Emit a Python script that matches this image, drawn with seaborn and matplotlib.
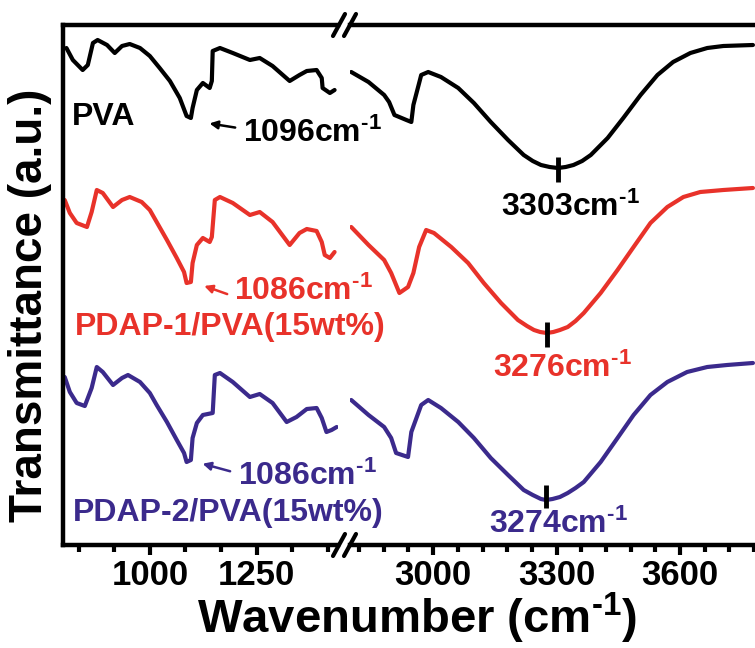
import pandas as pd
import matplotlib
matplotlib.use("Agg")
import matplotlib.pyplot as plt
from matplotlib.lines import Line2D
import seaborn as sns

# FTIR spectra (transmittance in a.u., curves already offset)
pva_lo_wn = [805, 820, 843, 855, 867, 878, 900, 918, 935, 953, 977, 1000, 1023, 1047, 1070, 1086,
             1096, 1100, 1110, 1124, 1140, 1145, 1147, 1164, 1194, 1234, 1257, 1287, 1327, 1350,
             1367, 1390, 1402, 1404, 1421, 1432]
pva_lo_t = [497, 485, 475, 480, 502, 505, 500, 492, 499, 501, 497, 489, 477, 464, 447, 429,
            427, 437, 455, 462, 457, 464, 494, 497, 492, 485, 487, 479, 464, 470,
            474, 475, 467, 457, 452, 455]

pva_hi_wn = [2801, 2843, 2881, 2893, 2906, 2935, 2947, 2952, 2966, 2971, 2988, 3019, 3061, 3099,
             3140, 3182, 3220, 3242, 3262, 3283, 3303, 3322, 3341, 3362, 3383, 3424, 3462, 3504,
             3545, 3583, 3625, 3666, 3705, 3777]
pva_hi_t = [473, 463, 450, 443, 430, 425, 423, 440, 462, 470, 473, 468, 457, 442,
            423, 405, 390, 384, 380, 378, 377, 378, 380, 384, 390, 407, 427, 450,
            470, 483, 492, 497, 499, 500]

p1_lo_wn = [801, 813, 829, 853, 864, 876, 890, 914, 935, 953, 981, 1000, 1016, 1040, 1063, 1080,
            1086, 1096, 1100, 1110, 1124, 1140, 1145, 1152, 1164, 1194, 1234, 1257, 1287, 1327,
            1350, 1367, 1390, 1402, 1409, 1421, 1432]
p1_lo_t = [345, 332, 322, 318, 333, 355, 352, 338, 345, 348, 343, 335, 323, 305, 287, 273,
           262, 263, 282, 300, 307, 303, 308, 345, 348, 342, 330, 333, 323, 300,
           312, 316, 314, 303, 290, 287, 293]

p1_hi_wn = [2801, 2843, 2881, 2898, 2918, 2939, 2952, 2966, 2983, 3002, 3044, 3085, 3123, 3165,
            3206, 3228, 3245, 3260, 3276, 3292, 3308, 3327, 3346, 3366, 3407, 3448, 3487, 3528,
            3569, 3608, 3649, 3705, 3777]
p1_hi_t = [318, 300, 285, 272, 252, 258, 272, 298, 315, 312, 298, 282, 262, 242,
           225, 219, 215, 213, 212, 213, 215, 218, 224, 232, 252, 275, 298, 322,
           338, 348, 353, 355, 357]

p2_lo_wn = [801, 813, 829, 848, 864, 876, 890, 914, 935, 949, 977, 1000, 1016, 1040, 1063, 1080,
            1086, 1096, 1100, 1110, 1124, 1147, 1152, 1164, 1194, 1234, 1257, 1287, 1320, 1343,
            1367, 1390, 1402, 1413, 1425, 1437]
p2_lo_t = [168, 153, 142, 139, 157, 178, 173, 160, 167, 170, 163, 152, 140, 123, 105, 92,
           83, 85, 107, 122, 130, 132, 170, 172, 163, 148, 151, 142, 123, 128,
           136, 137, 127, 113, 115, 118]

p2_hi_wn = [2801, 2843, 2881, 2898, 2910, 2939, 2947, 2971, 2988, 3019, 3061, 3099, 3140, 3182,
            3220, 3242, 3262, 3274, 3290, 3308, 3327, 3346, 3366, 3407, 3448, 3487, 3528, 3569,
            3617, 3666, 3714, 3777]
p2_hi_t = [145, 130, 118, 107, 92, 88, 113, 140, 145, 137, 123, 107, 87, 70,
           55, 50, 46, 45, 46, 48, 52, 57, 63, 83, 107, 130, 150, 163,
           173, 178, 180, 182]

samples = ["PVA", "PDAP-1/PVA(15wt%)", "PDAP-2/PVA(15wt%)"]
colors = {"PVA": "#000000", "PDAP-1/PVA(15wt%)": "#E8322A", "PDAP-2/PVA(15wt%)": "#3B2A8C"}

rows = []
for name, seg, wn, t in [
    ("PVA", "low", pva_lo_wn, pva_lo_t), ("PVA", "high", pva_hi_wn, pva_hi_t),
    ("PDAP-1/PVA(15wt%)", "low", p1_lo_wn, p1_lo_t), ("PDAP-1/PVA(15wt%)", "high", p1_hi_wn, p1_hi_t),
    ("PDAP-2/PVA(15wt%)", "low", p2_lo_wn, p2_lo_t), ("PDAP-2/PVA(15wt%)", "high", p2_hi_wn, p2_hi_t),
]:
    rows += [{"sample": name, "region": seg, "wn": w, "T": v} for w, v in zip(wn, t)]
df = pd.DataFrame(rows)

sns.set_style("ticks")
plt.rcParams["font.family"] = ["Liberation Sans", "DejaVu Sans"]
plt.rcParams["font.weight"] = "bold"
plt.rcParams["mathtext.fontset"] = "custom"
plt.rcParams["mathtext.bf"] = "Liberation Sans:bold"
plt.rcParams["mathtext.rm"] = "Liberation Sans:bold"
plt.rcParams["mathtext.default"] = "bf"
for k in ["axes.edgecolor", "xtick.color", "ytick.color", "text.color", "axes.labelcolor"]:
    plt.rcParams[k] = "black"

W, H = 755, 648
fig = plt.figure(figsize=(W / 100, H / 100), dpi=100)


def box(x0, y0, x1, y1):
    return [x0 / W, 1 - y1 / H, (x1 - x0) / W, (y1 - y0) / H]


ax1 = fig.add_axes(box(63, 25, 338, 545))
ax2 = fig.add_axes(box(350, 25, 755, 545))

for ax, seg in [(ax1, "low"), (ax2, "high")]:
    sns.lineplot(data=df[df.region == seg], x="wn", y="T", hue="sample", palette=colors,
                 hue_order=samples, sort=False, estimator=None, lw=3, legend=False, ax=ax)
    ax.set_facecolor("none")
    ax.set_ylim(0, 520)
    ax.set_yticks([])
    ax.set_xlabel("")
    ax.set_ylabel("")
    for s in ax.spines.values():
        s.set_linewidth(3.2)
    ax.spines["right"].set_visible(False)
    ax.tick_params(axis="x", which="major", direction="out", length=7, width=3,
                   labelsize=25, pad=3)
    ax.tick_params(axis="x", which="minor", direction="out", length=5, width=3)

ax2.spines["left"].set_visible(False)

ax1.set_xlim(797, 1440)
ax1.set_xticks([1000, 1250])
ax1.set_xticks([833.3, 916.7, 1083.3, 1166.7, 1333.3, 1416.7], minor=True)

ax2.set_xlim(2798, 3782)
ax2.set_xticks([3000, 3300, 3600])
ax2.set_xticks([2820, 2880, 2940, 3060, 3120, 3180, 3240, 3360, 3420, 3480,
                3540, 3660, 3720, 3780], minor=True)

# axis break marks
for yc in (25, 545):
    for xc in (339, 350):
        fig.add_artist(Line2D([(xc - 6) / W, (xc + 6) / W], [1 - (yc + 11) / H, 1 - (yc - 11) / H],
                              color="k", lw=3))

# labels
fs = 23
sup = "cm$^{\\text{-1}}$"
ax1.text(818, 428, "PVA", color=colors["PVA"], fontsize=fs, va="center", ha="left")
ax1.text(825, 218, "PDAP-1/PVA(15wt%)", color=colors["PDAP-1/PVA(15wt%)"], fontsize=fs,
         va="center", ha="left")
ax1.text(820, 32, "PDAP-2/PVA(15wt%)", color=colors["PDAP-2/PVA(15wt%)"], fontsize=fs,
         va="center", ha="left")

arrow = dict(arrowstyle="-|>", lw=1.8, mutation_scale=12)
for (hx, hy, tx, ty, lx, ly, txt, c) in [
    (1133, 422, 1206, 417, 1218, 412, "1096" + sup, colors["PVA"]),
    (1121, 260, 1187, 250, 1197, 254, "1086" + sup, colors["PDAP-1/PVA(15wt%)"]),
    (1117, 82, 1194, 73, 1206, 69, "1086" + sup, colors["PDAP-2/PVA(15wt%)"]),
]:
    ax1.annotate("", xy=(hx, hy), xytext=(tx, ty), arrowprops=dict(color=c, **arrow),
                 annotation_clip=False)
    ax1.text(lx, ly, txt, color=c, fontsize=fs, va="center", ha="left")

for (wn, y0, y1, ly, lx, txt, c) in [
    (3303, 363, 388, 338, 3165, "3303" + sup, colors["PVA"]),
    (3276, 198, 223, 177, 3145, "3276" + sup, colors["PDAP-1/PVA(15wt%)"]),
    (3274, 37, 60, 21, 3136, "3274" + sup, colors["PDAP-2/PVA(15wt%)"]),
]:
    ax2.plot([wn, wn], [y0, y1], color="k", lw=3.5, solid_capstyle="butt")
    ax2.text(lx, ly, txt, color=c, fontsize=fs, va="center", ha="left")

fig.text(417 / W, 1 - 633 / H, "Wavenumber (" + sup + ")", fontsize=34, ha="center",
         va="baseline")
fig.text(30 / W, 1 - 305 / H, "Transmittance (a.u.)", fontsize=33, rotation=90,
         ha="center", va="center")

fig.savefig("out.png", dpi=100)
